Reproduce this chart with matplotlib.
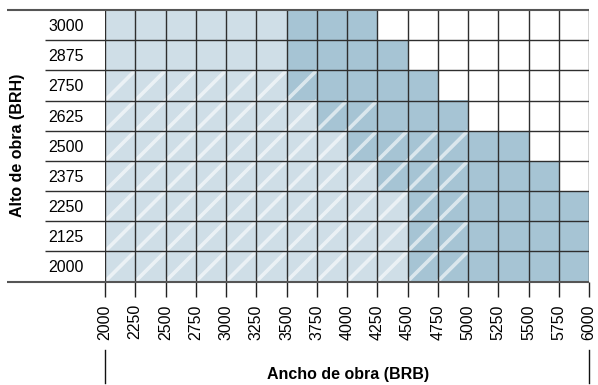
import numpy as np
import matplotlib
matplotlib.use("Agg")
import matplotlib.pyplot as plt
import matplotlib.transforms as mtransforms
from matplotlib.collections import LineCollection
from matplotlib.patches import Rectangle

plt.rcParams['font.family'] = ['Liberation Sans', 'DejaVu Sans']

# ---- data ----
width_edges = [2000, 2250, 2500, 2750, 3000, 3250, 3500, 3750, 4000,
               4250, 4500, 4750, 5000, 5250, 5500, 5750, 6000]
heights = [3000, 2875, 2750, 2625, 2500, 2375, 2250, 2125, 2000]
# max width reached by the light region for each height
light_max = [3500, 3500, 3500, 3750, 4000, 4250, 4500, 4500, 4500]
# max width reached by the dark region for each height
dark_max = [4250, 4500, 4750, 5000, 5500, 5750, 6000, 6000, 6000]
# max width of the hatched region for each height (2000 = none)
hatch_max = [2000, 2000, 3750, 4250, 5000, 5000, 5000, 5000, 5000]

x_label = "Ancho de obra (BRB)"
y_label = "Alto de obra (BRH)"

light_color = "#cfdee7"
dark_color = "#a6c4d4"
grid_color = "#2e2e2e"

W, H = 598, 385
fig = plt.figure(figsize=(W / 100, H / 100), dpi=100)
ax_l, ax_r, ax_t, ax_b = 105, 589, 10, 281.5
ax = fig.add_axes([ax_l / W, (H - ax_b) / H, (ax_r - ax_l) / W, (ax_b - ax_t) / H])

step_h = 125
ymin, ymax = min(heights) - step_h / 2, max(heights) + step_h / 2
ax.set_xlim(width_edges[0], width_edges[-1])
ax.set_ylim(ymin, ymax)

hatch_segs = []
for h, lm, dm, hm in zip(heights, light_max, dark_max, hatch_max):
    y0, y1 = h - step_h / 2, h + step_h / 2
    for x0, x1 in zip(width_edges[:-1], width_edges[1:]):
        if x1 <= lm:
            c = light_color
        elif x1 <= dm:
            c = dark_color
        else:
            c = "white"
        ax.add_patch(Rectangle((x0, y0), x1 - x0, y1 - y0, facecolor=c,
                               edgecolor="none", zorder=1))
        if x1 <= hm:
            hatch_segs.append([(x0, y0), (x1, y1)])

ax.add_collection(LineCollection(hatch_segs, colors="white", alpha=0.6,
                                 linewidths=2.6, capstyle="butt", zorder=2))

# grid
row_edges = [ymin + step_h * k for k in range(len(heights) + 1)]
ax.vlines(width_edges, ymin, ymax, colors=grid_color, linewidth=1.0, zorder=3)
ax.hlines(row_edges[1:-1], width_edges[0], width_edges[-1], colors=grid_color,
          linewidth=1.0, zorder=3)

# extended row separators into label column
ytrans = ax.get_yaxis_transform()
x_sep = (45 - ax_l) / (ax_r - ax_l)
x_out = (7 - ax_l) / (ax_r - ax_l)
ax.hlines(row_edges[1:-1], x_sep, 0, transform=ytrans, colors=grid_color,
          linewidth=1.0, clip_on=False, zorder=3)
ax.hlines([row_edges[0], row_edges[-1]], x_out, 1, transform=ytrans,
          colors="#555555", linewidth=1.5, clip_on=False, zorder=4)

for s in ax.spines.values():
    s.set_visible(False)

ax.set_xticks(width_edges)
ax.set_xticklabels([str(w) for w in width_edges], rotation=90, fontsize=11.5)
ax.tick_params(axis="x", length=10.8, width=1.0, color="#222222", pad=5.5)
ax.set_yticks(heights)
ax.set_yticklabels([str(h) for h in heights], fontsize=11.5)
ax.tick_params(axis="y", length=0, pad=(ax_l - 48) * 0.72)
for t in ax.get_yticklabels():
    t.set_ha("left")

# bracket marks under the tick labels
btrans = mtransforms.blended_transform_factory(ax.transData, fig.transFigure)
for xv in (width_edges[0], width_edges[-1]):
    ax.plot([xv, xv], [(H - 350) / H, (H - 383) / H], transform=btrans,
            color="#111111", linewidth=1.0, clip_on=False)

fig.text(348 / W, (H - 375) / H, x_label, ha="center", va="center",
         fontsize=11.5, fontweight="bold")
fig.text(18 / W, (H - 145) / H, y_label, ha="center", va="center",
         rotation=90, fontsize=11.5, fontweight="bold")

fig.savefig("out.png", dpi=100)
